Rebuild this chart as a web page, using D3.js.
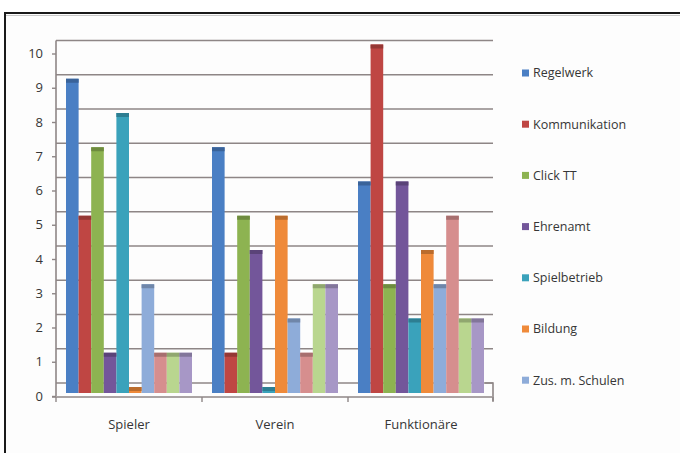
<!DOCTYPE html>
<html>
<head>
<meta charset="utf-8">
<script src="https://cdn.jsdelivr.net/npm/d3@7"></script>
<style>
  html, body { margin: 0; padding: 0; background: #ffffff; }
  svg { display: block; }
</style>
</head>
<body>
<svg id="chart" width="680" height="453"></svg>
<script>
// ---- data ----
const categories = ["Spieler", "Verein", "Funktionäre"];
const seriesNames = ["Regelwerk", "Kommunikation", "Click TT", "Ehrenamt", "Spielbetrieb",
                     "Bildung", "Zus. m. Schulen", "Serie 8", "Serie 9", "Serie 10"];
const legendNames = ["Regelwerk", "Kommunikation", "Click TT", "Ehrenamt", "Spielbetrieb",
                     "Bildung", "Zus. m. Schulen"];
const valuesSpieler     = [9, 5, 7, 1, 8, 0, 3, 1, 1, 1];
const valuesVerein      = [7, 1, 5, 4, 0, 5, 2, 1, 3, 3];
const valuesFunktionaere= [6, 10, 3, 6, 2, 4, 3, 5, 2, 2];
const yTicks = [0, 1, 2, 3, 4, 5, 6, 7, 8, 9, 10];
const colors = ["#4a7fc4", "#bf4643", "#8db351", "#73569a", "#3aa2bb",
                "#ef8a3a", "#8eacd9", "#d68e8e", "#b9d68f", "#a797c6"];

const valuesByCategory = [valuesSpieler, valuesVerein, valuesFunktionaere];

// ---- drawing ----
const svg = d3.select("#chart");
const font = "'Open Sans', 'Liberation Sans', sans-serif";
const textColor = "#363636";
const axisColor = "#8e8686";

// frame
svg.append("rect").attr("x", 0).attr("y", 0).attr("width", 680).attr("height", 453).attr("fill", "#ffffff");
svg.append("rect").attr("x", 5).attr("y", 13).attr("width", 690).attr("height", 460)
   .attr("fill", "#fdfdfd").attr("stroke", "#1a1a1a").attr("stroke-width", 2);
svg.append("line").attr("x1", 6).attr("x2", 680).attr("y1", 15.5).attr("y2", 15.5)
   .attr("stroke", "#c8c8c8").attr("stroke-width", 1);

const x0 = d3.scaleBand().domain(categories).range([56, 494]).paddingInner(0).paddingOuter(0);
const groupW = 126;
const x1 = d3.scaleBand().domain(seriesNames).range([0, groupW]).padding(0);
const y = d3.scaleLinear().domain([0, 10]).range([396, 53.5]);

const backOff = 13;   // back wall offset (3D effect)
const baseOff = 3;    // bar base offset
const topOff = 9;     // bar top offset
const capH = 4;

// gridlines on back wall
svg.append("g").selectAll("line").data(yTicks).join("line")
  .attr("x1", 56).attr("x2", 493)
  .attr("y1", d => y(d) - backOff).attr("y2", d => y(d) - backOff)
  .attr("stroke", axisColor).attr("stroke-width", 1.7);

// right end of floor bracket
svg.append("path")
  .attr("d", `M485,${y(0) - backOff} L493,${y(0) - backOff} L493,${y(0) + 5}`)
  .attr("fill", "none").attr("stroke", axisColor).attr("stroke-width", 1.6);

// left axis line
svg.append("line").attr("x1", 56).attr("x2", 56)
  .attr("y1", y(10) - backOff).attr("y2", y(0))
  .attr("stroke", axisColor).attr("stroke-width", 1.6);

// y axis ticks and labels
const yAxis = d3.axisLeft(y).tickValues(yTicks).tickSize(4).tickPadding(9).tickFormat(d3.format("d"));
const gy = svg.append("g").attr("transform", "translate(56,0)").call(yAxis);
gy.select(".domain").remove();
gy.selectAll(".tick line").attr("stroke", axisColor).attr("stroke-width", 1.4);
gy.selectAll(".tick text").attr("fill", textColor).attr("font-family", font).attr("font-size", 13);

// bars
const groups = svg.append("g").selectAll("g").data(categories).join("g")
  .attr("transform", c => `translate(${x0(c) + (x0.bandwidth() - groupW) / 2},0)`);

groups.each(function(c, ci) {
  const vals = valuesByCategory[ci];
  const g = d3.select(this);
  const data = seriesNames.map((s, i) => ({ s, i, v: vals[i] }));
  g.selectAll("rect.bar").data(data).join("rect").attr("class", "bar")
    .attr("x", d => x1(d.s)).attr("width", x1.bandwidth())
    .attr("y", d => y(d.v) - topOff)
    .attr("height", d => (y(0) - baseOff) - (y(d.v) - topOff))
    .attr("fill", d => colors[d.i]);
  g.selectAll("rect.cap").data(data).join("rect").attr("class", "cap")
    .attr("x", d => x1(d.s)).attr("width", x1.bandwidth())
    .attr("y", d => y(d.v) - topOff)
    .attr("height", capH)
    .attr("fill", d => d3.color(colors[d.i]).darker(0.7));
});

// x axis (front)
const xAxis = d3.axisBottom(x0).tickSize(0).tickPadding(23);
const gx = svg.append("g").attr("transform", `translate(0,${y(0) + 1})`).call(xAxis);
gx.select(".domain").attr("stroke", axisColor).attr("stroke-width", 1.6)
  .attr("d", `M52,0H492`);
gx.selectAll(".tick text").attr("fill", textColor).attr("font-family", font).attr("font-size", 13);
// category separators
const seps = [56, ...categories.slice(1).map(c => x0(c)), 493];
gx.selectAll("line.sep").data(seps).join("line").attr("class", "sep")
  .attr("x1", d => d).attr("x2", d => d).attr("y1", 0).attr("y2", 5)
  .attr("stroke", axisColor).attr("stroke-width", 1.4);

// legend
const legend = svg.append("g").selectAll("g").data(legendNames).join("g")
  .attr("transform", (d, i) => `translate(522,${73 + i * 51.2})`);
legend.append("rect").attr("x", 0).attr("y", -3.5).attr("width", 7).attr("height", 7)
  .attr("fill", (d, i) => colors[i]);
legend.append("text").attr("x", 11).attr("y", 0).attr("dy", "0.35em")
  .attr("fill", textColor).attr("font-family", font).attr("font-size", 12.5)
  .text(d => d);
</script>
</body>
</html>
